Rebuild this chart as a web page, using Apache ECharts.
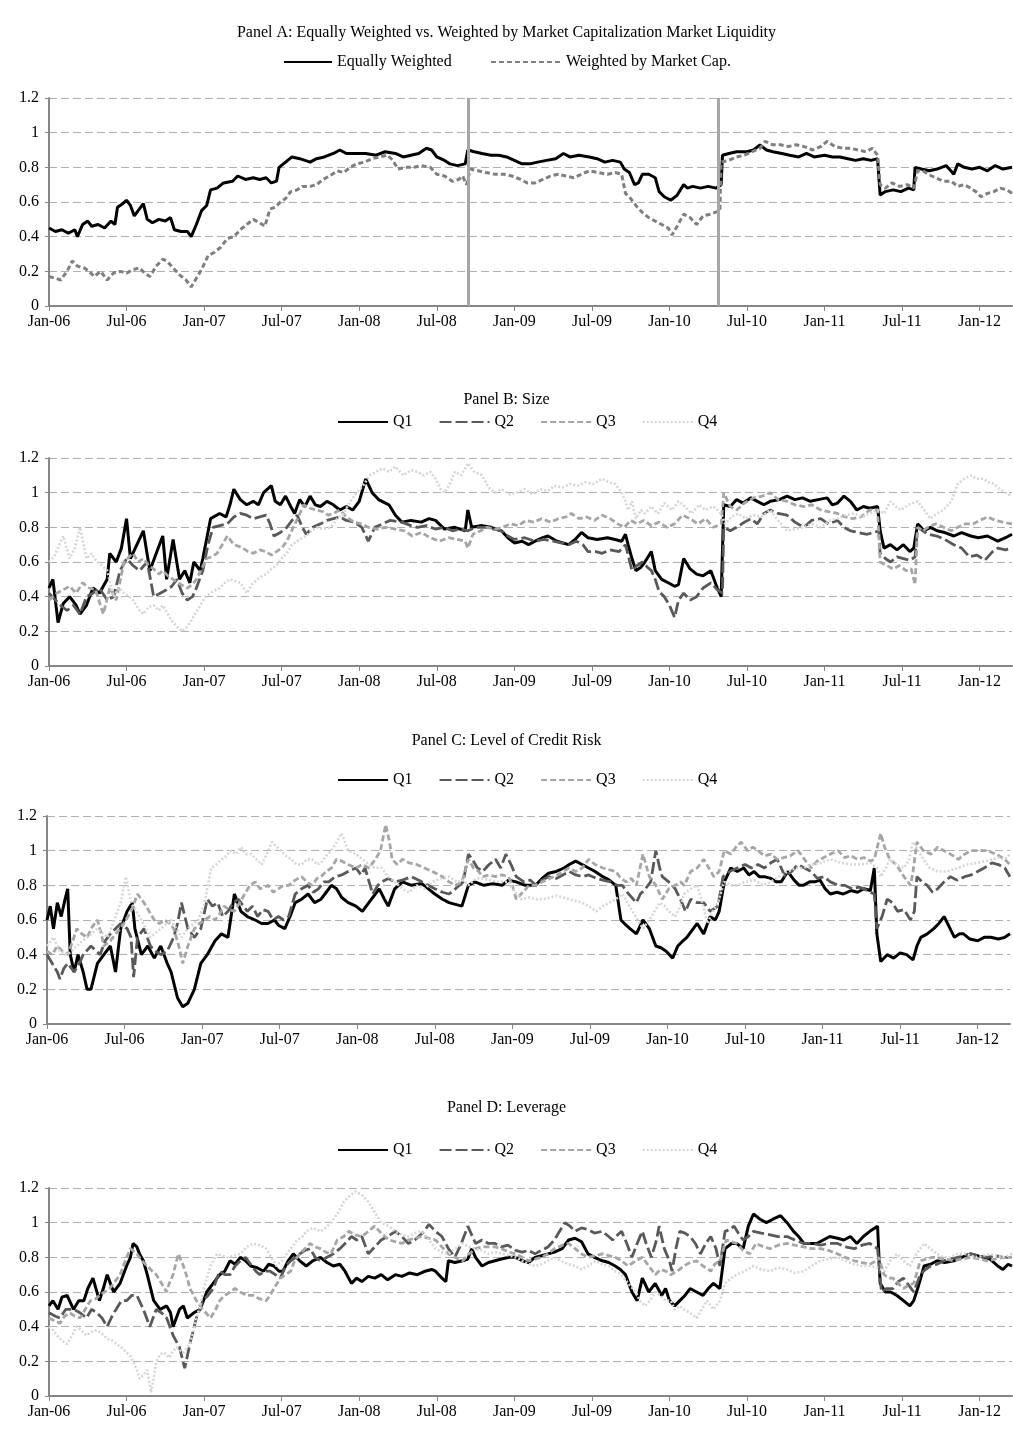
<!DOCTYPE html>
<html>
<head>
<meta charset="utf-8">
<script src="https://cdn.jsdelivr.net/npm/echarts@6/dist/echarts.min.js"></script>
<style>
  html, body { margin: 0; background: #fff; }
  #chart { width: 1013px; height: 1430px; }
</style>
</head>
<body>
<div id="chart"></div>
<script>
// x values are months since the start of Jan-06
const xTickLabels = ['Jan-06', 'Jul-06', 'Jan-07', 'Jul-07', 'Jan-08', 'Jul-08', 'Jan-09',
  'Jul-09', 'Jan-10', 'Jul-10', 'Jan-11', 'Jul-11', 'Jan-12']
const yTickLabels = ['0', '0.2', '0.4', '0.6', '0.8', '1', '1.2']
const panelTitles = [
  'Panel A: Equally Weighted vs. Weighted by Market Capitalization Market Liquidity',
  'Panel B: Size',
  'Panel C: Level of Credit Risk',
  'Panel D: Leverage'
]
const quartileNames = ['Q1', 'Q2', 'Q3', 'Q4']
// Sept 2008 and May 2010 markers in panel A
const eventLines = [32.45, 51.75]

// Panel A
const aEqual = [[0,0.45],[0.5,0.43],[1,0.44],[1.5,0.42],[2,0.44],[2.2,0.40],[2.6,0.47],[3,0.49],[3.3,0.46],[3.8,0.47],[4.3,0.45],[4.8,0.49],[5.1,0.47],[5.3,0.57],[5.7,0.59],[6,0.61],[6.3,0.58],[6.6,0.52],[7,0.56],[7.3,0.59],[7.6,0.50],[8,0.48],[8.5,0.50],[9,0.49],[9.4,0.51],[9.7,0.44],[10.2,0.43],[10.7,0.43],[11,0.40],[11.4,0.47],[11.8,0.55],[12.2,0.58],[12.5,0.67],[13,0.68],[13.5,0.71],[14.2,0.72],[14.6,0.75],[15.2,0.73],[15.8,0.74],[16.3,0.73],[16.8,0.74],[17.2,0.71],[17.6,0.72],[17.8,0.80],[18.3,0.83],[18.8,0.86],[19.4,0.85],[20.2,0.83],[20.7,0.85],[21.3,0.86],[22,0.88],[22.5,0.90],[23,0.88],[23.7,0.88],[24.5,0.88],[25.3,0.87],[26,0.89],[26.8,0.88],[27.4,0.86],[28,0.87],[28.6,0.88],[29.2,0.91],[29.6,0.90],[30,0.86],[30.6,0.84],[31,0.82],[31.6,0.81],[32.2,0.82],[32.4,0.90],[32.9,0.89],[33.5,0.88],[34.2,0.87],[34.8,0.87],[35.4,0.86],[36,0.84],[36.6,0.82],[37.2,0.82],[37.8,0.83],[38.5,0.84],[39.2,0.85],[39.8,0.88],[40.3,0.86],[41,0.87],[41.8,0.86],[42.4,0.85],[43,0.83],[43.6,0.84],[44.2,0.83],[44.5,0.79],[44.9,0.77],[45.3,0.70],[45.6,0.71],[45.9,0.76],[46.4,0.76],[46.9,0.74],[47.2,0.66],[47.6,0.63],[48.1,0.61],[48.6,0.64],[49.1,0.70],[49.4,0.68],[49.8,0.69],[50.4,0.68],[51,0.69],[51.6,0.68],[52,0.70],[52.1,0.87],[52.6,0.88],[53.2,0.89],[54,0.89],[54.5,0.90],[55,0.93],[55.5,0.90],[56,0.89],[56.7,0.88],[57.3,0.87],[58,0.86],[58.6,0.88],[59.2,0.86],[60,0.87],[60.6,0.86],[61.2,0.86],[61.8,0.85],[62.4,0.84],[63,0.85],[63.6,0.84],[64.1,0.85],[64.3,0.64],[64.7,0.66],[65.3,0.67],[65.9,0.66],[66.5,0.68],[66.9,0.67],[67,0.80],[67.5,0.79],[68.1,0.78],[68.7,0.79],[69.4,0.81],[70,0.76],[70.3,0.82],[70.8,0.80],[71.4,0.79],[72,0.80],[72.6,0.78],[73.2,0.81],[73.8,0.79],[74.5,0.80]]
const aMcap = [[0,0.17],[0.5,0.16],[0.9,0.15],[1.4,0.20],[1.8,0.26],[2.2,0.23],[2.7,0.22],[3.1,0.20],[3.5,0.17],[4,0.20],[4.5,0.15],[5,0.19],[5.5,0.20],[6,0.19],[6.5,0.21],[7,0.22],[7.4,0.19],[7.8,0.17],[8.3,0.23],[8.8,0.27],[9.1,0.26],[9.6,0.22],[10.1,0.18],[10.6,0.15],[11,0.11],[11.4,0.16],[11.8,0.21],[12.3,0.29],[12.8,0.31],[13.3,0.34],[13.8,0.39],[14.3,0.40],[14.8,0.44],[15.3,0.47],[15.8,0.50],[16.3,0.48],[16.7,0.46],[17.1,0.56],[17.5,0.57],[17.9,0.60],[18.3,0.62],[18.7,0.66],[19.2,0.67],[19.6,0.69],[20.2,0.69],[20.7,0.70],[21.2,0.73],[21.7,0.75],[22.3,0.78],[22.8,0.77],[23.3,0.80],[23.8,0.82],[24.4,0.83],[25,0.85],[25.6,0.86],[26.2,0.87],[26.6,0.84],[27,0.79],[27.6,0.80],[28.2,0.80],[28.8,0.81],[29.5,0.80],[30,0.76],[30.6,0.75],[31.2,0.72],[31.7,0.73],[32,0.75],[32.3,0.70],[32.6,0.79],[33.2,0.78],[33.8,0.77],[34.5,0.76],[35.2,0.76],[35.8,0.75],[36.5,0.73],[37,0.71],[37.6,0.71],[38.2,0.73],[38.8,0.75],[39.4,0.76],[40,0.75],[40.6,0.74],[41.2,0.76],[41.8,0.78],[42.5,0.77],[43.2,0.76],[43.8,0.77],[44.3,0.76],[44.6,0.65],[45,0.62],[45.4,0.58],[45.9,0.54],[46.4,0.51],[46.9,0.49],[47.4,0.47],[47.9,0.45],[48.2,0.41],[48.6,0.46],[49.1,0.53],[49.6,0.51],[50.1,0.47],[50.6,0.52],[51.2,0.53],[51.9,0.55],[52,0.83],[52.6,0.84],[53.2,0.86],[53.8,0.87],[54.4,0.89],[55,0.91],[55.4,0.95],[56,0.93],[56.6,0.93],[57.2,0.92],[57.8,0.93],[58.4,0.92],[59.1,0.90],[59.7,0.92],[60.2,0.95],[60.8,0.92],[61.4,0.91],[62,0.91],[62.6,0.90],[63.2,0.89],[63.7,0.91],[64.1,0.87],[64.3,0.70],[64.7,0.68],[65.2,0.71],[65.8,0.69],[66.4,0.70],[66.9,0.68],[67.2,0.78],[67.6,0.78],[68,0.76],[68.6,0.74],[69.2,0.72],[69.8,0.72],[70.3,0.69],[70.8,0.70],[71.3,0.68],[71.7,0.66],[72.1,0.63],[72.6,0.65],[73.1,0.66],[73.6,0.68],[74.1,0.67],[74.5,0.65]]

// Panel B: size quartiles
const bQ1 = [[0,0.45],[0.3,0.50],[0.7,0.25],[1.1,0.36],[1.6,0.40],[2.1,0.35],[2.4,0.30],[2.9,0.35],[3.4,0.45],[3.9,0.42],[4.5,0.50],[4.7,0.65],[5.2,0.60],[5.6,0.68],[6,0.85],[6.3,0.62],[6.8,0.70],[7.3,0.78],[7.8,0.55],[8.3,0.65],[8.8,0.75],[9.1,0.50],[9.6,0.73],[10.1,0.50],[10.5,0.55],[10.9,0.48],[11.2,0.60],[11.7,0.55],[11.9,0.62],[12.5,0.85],[13.2,0.88],[13.7,0.86],[14,0.93],[14.3,1.02],[14.8,0.96],[15.3,0.93],[15.8,0.95],[16.2,0.93],[16.6,1.00],[17.2,1.04],[17.5,0.95],[17.9,0.93],[18.3,0.98],[18.7,0.92],[19,0.88],[19.4,0.96],[19.8,0.92],[20.2,0.98],[20.6,0.93],[21,0.92],[21.5,0.95],[22,0.93],[22.5,0.90],[23,0.92],[23.5,0.90],[24,0.95],[24.5,1.08],[25,1.00],[25.5,0.96],[26.3,0.93],[26.8,0.87],[27.3,0.83],[28,0.84],[28.8,0.83],[29.4,0.85],[29.9,0.84],[30.6,0.79],[31.4,0.80],[32.2,0.78],[32.4,0.90],[32.7,0.80],[33.5,0.81],[34.2,0.80],[35,0.78],[35.5,0.74],[36,0.71],[36.6,0.72],[37.1,0.70],[37.6,0.72],[38.2,0.74],[38.6,0.75],[39.3,0.72],[40.2,0.70],[40.7,0.73],[41.2,0.77],[41.7,0.74],[42.4,0.73],[43.2,0.74],[43.8,0.73],[44.3,0.72],[44.6,0.76],[44.8,0.70],[45.1,0.62],[45.4,0.55],[45.8,0.57],[46.1,0.60],[46.6,0.66],[46.9,0.55],[47.4,0.50],[47.9,0.48],[48.4,0.46],[48.7,0.47],[49.1,0.62],[49.6,0.56],[50.1,0.53],[50.6,0.52],[51.2,0.55],[51.7,0.45],[52,0.40],[52.2,0.93],[52.7,0.92],[53.2,0.96],[53.7,0.94],[54.3,0.97],[54.8,0.95],[55.3,0.93],[55.8,0.95],[56.5,0.96],[57.1,0.98],[57.7,0.96],[58.3,0.97],[58.9,0.95],[59.5,0.96],[60.2,0.97],[60.6,0.93],[61,0.94],[61.5,0.98],[62,0.95],[62.5,0.90],[63,0.92],[63.5,0.91],[64.1,0.92],[64.3,0.78],[64.6,0.68],[65.1,0.70],[65.6,0.67],[66.1,0.70],[66.6,0.66],[66.9,0.68],[67.2,0.82],[67.7,0.78],[68.2,0.80],[68.7,0.78],[69.3,0.77],[70,0.75],[70.6,0.77],[71.3,0.75],[71.9,0.74],[72.6,0.75],[73.4,0.72],[74,0.74],[74.5,0.76]]
const bQ2 = [[0,0.42],[0.5,0.38],[0.9,0.35],[1.4,0.32],[1.9,0.35],[2.4,0.30],[2.9,0.40],[3.4,0.42],[3.9,0.45],[4.5,0.38],[5,0.40],[5.5,0.55],[6,0.62],[6.5,0.58],[7,0.55],[7.6,0.60],[8.1,0.40],[8.6,0.42],[9.1,0.44],[9.5,0.46],[9.9,0.50],[10.3,0.42],[10.7,0.38],[11.1,0.40],[11.4,0.45],[11.9,0.55],[12.3,0.70],[12.7,0.80],[13.2,0.81],[13.8,0.82],[14.3,0.86],[14.8,0.88],[15.3,0.87],[15.8,0.85],[16.3,0.86],[16.8,0.87],[17.1,0.82],[17.4,0.75],[17.9,0.77],[18.4,0.80],[18.8,0.84],[19.2,0.87],[19.6,0.80],[19.9,0.76],[20.4,0.80],[21,0.82],[21.5,0.84],[22,0.85],[22.5,0.86],[23,0.84],[23.6,0.83],[24.2,0.80],[24.7,0.72],[25.2,0.80],[25.8,0.82],[26.4,0.84],[27.3,0.83],[28,0.81],[28.5,0.80],[29.2,0.81],[29.9,0.79],[30.6,0.80],[31.2,0.78],[31.8,0.79],[32.4,0.78],[33,0.80],[33.8,0.80],[34.4,0.79],[35,0.78],[35.5,0.75],[36,0.73],[36.8,0.74],[37.6,0.72],[38.3,0.73],[39,0.72],[39.6,0.71],[40.2,0.70],[40.8,0.72],[41.3,0.70],[41.7,0.66],[42.3,0.66],[42.8,0.65],[43.4,0.67],[44.1,0.66],[44.6,0.70],[45.1,0.55],[45.5,0.58],[45.9,0.60],[46.3,0.57],[46.6,0.55],[46.9,0.50],[47.2,0.43],[47.6,0.40],[48,0.35],[48.4,0.28],[48.7,0.38],[49.1,0.42],[49.6,0.38],[50.1,0.40],[50.6,0.45],[51.2,0.48],[51.7,0.44],[52.1,0.42],[52.2,0.80],[52.7,0.78],[53.2,0.80],[53.8,0.83],[54.3,0.85],[54.8,0.82],[55.3,0.88],[55.8,0.90],[56.4,0.88],[57.1,0.87],[57.7,0.83],[58.4,0.80],[59,0.84],[59.7,0.85],[60.3,0.82],[61,0.84],[61.5,0.80],[62,0.78],[62.6,0.77],[63.3,0.76],[63.8,0.77],[64.2,0.78],[64.3,0.65],[64.7,0.62],[65.1,0.60],[65.6,0.63],[66.1,0.62],[66.6,0.61],[67,0.63],[67.2,0.80],[67.6,0.78],[68,0.76],[68.7,0.75],[69.3,0.73],[70,0.70],[70.6,0.68],[71.2,0.63],[71.8,0.64],[72.4,0.61],[73,0.66],[73.4,0.68],[74,0.67],[74.5,0.68]]
const bQ3 = [[0,0.38],[0.6,0.42],[1.1,0.44],[1.6,0.46],[2.1,0.42],[2.6,0.48],[3.1,0.45],[3.6,0.44],[4.2,0.30],[4.7,0.45],[5.2,0.38],[5.8,0.60],[6.2,0.63],[6.5,0.65],[6.9,0.60],[7.3,0.62],[7.7,0.58],[8.1,0.56],[8.5,0.53],[8.8,0.55],[9.2,0.52],[9.6,0.50],[10.2,0.47],[10.7,0.45],[11.1,0.47],[11.4,0.50],[11.8,0.56],[12.2,0.62],[12.6,0.63],[13,0.65],[13.4,0.70],[13.8,0.75],[14.3,0.70],[14.7,0.69],[15,0.68],[15.4,0.66],[15.8,0.65],[16.3,0.67],[16.8,0.66],[17.2,0.64],[17.6,0.66],[18,0.68],[18.4,0.72],[18.9,0.80],[19.3,0.86],[19.7,0.93],[20.2,0.91],[20.7,0.90],[21.2,0.89],[21.6,0.87],[22,0.88],[22.5,0.90],[23,0.86],[23.6,0.83],[24.2,0.82],[24.7,0.80],[25.4,0.79],[26,0.80],[26.8,0.79],[27.5,0.78],[28.1,0.75],[28.8,0.77],[29.5,0.74],[30.2,0.72],[30.9,0.74],[31.6,0.73],[32.2,0.72],[32.4,0.68],[32.8,0.76],[33.4,0.78],[33.9,0.80],[34.5,0.79],[35.1,0.80],[35.7,0.82],[36.3,0.81],[36.9,0.84],[37.5,0.83],[38.1,0.85],[38.8,0.83],[39.4,0.85],[40,0.86],[40.4,0.88],[41,0.85],[41.6,0.86],[42.2,0.84],[42.8,0.87],[43.4,0.85],[44,0.82],[44.5,0.80],[45,0.84],[45.5,0.82],[46,0.84],[46.6,0.81],[47.2,0.83],[47.8,0.80],[48.4,0.82],[49,0.87],[49.6,0.85],[50.2,0.82],[50.8,0.85],[51.4,0.80],[52,0.82],[52.2,1.00],[52.7,0.92],[53.2,0.90],[53.8,0.94],[54.5,0.97],[55.2,0.98],[55.8,1.00],[56.4,0.96],[57.1,0.95],[57.7,0.93],[58.4,0.92],[59,0.93],[59.7,0.90],[60.3,0.89],[61,0.88],[61.6,0.86],[62.2,0.85],[62.8,0.86],[63.5,0.90],[64.1,0.90],[64.3,0.60],[64.8,0.58],[65.3,0.56],[65.8,0.58],[66.3,0.55],[66.7,0.56],[67,0.47],[67.2,0.80],[67.6,0.78],[68,0.80],[68.6,0.82],[69.2,0.80],[69.8,0.78],[70.3,0.80],[70.9,0.82],[71.5,0.82],[72,0.84],[72.6,0.86],[73.2,0.84],[73.8,0.83],[74.5,0.82]]
const bQ4 = [[0,0.60],[0.4,0.63],[0.8,0.70],[1.1,0.75],[1.6,0.62],[2,0.68],[2.4,0.80],[2.9,0.62],[3.3,0.65],[3.7,0.60],[4.1,0.58],[4.5,0.55],[5,0.40],[5.4,0.45],[5.8,0.42],[6.2,0.40],[6.5,0.38],[6.9,0.33],[7.3,0.30],[7.7,0.34],[8.1,0.35],[8.5,0.32],[8.8,0.35],[9.2,0.30],[9.6,0.25],[10,0.22],[10.3,0.20],[10.6,0.22],[10.9,0.25],[11.3,0.30],[11.7,0.35],[12.1,0.40],[12.5,0.42],[12.9,0.44],[13.2,0.45],[13.6,0.48],[14,0.50],[14.4,0.49],[14.8,0.48],[15.3,0.42],[15.7,0.47],[16.1,0.50],[16.5,0.52],[16.8,0.53],[17.2,0.56],[17.6,0.58],[18,0.62],[18.4,0.65],[18.8,0.70],[19.2,0.72],[19.6,0.74],[19.9,0.75],[20.3,0.78],[20.7,0.80],[21.2,0.79],[21.8,0.80],[22.3,0.85],[22.8,0.88],[23.3,0.95],[23.8,1.00],[24.4,1.05],[24.8,1.10],[25.3,1.12],[25.8,1.14],[26.3,1.12],[26.8,1.15],[27.4,1.10],[28,1.13],[28.5,1.12],[29,1.10],[29.5,1.12],[29.9,1.08],[30.3,1.02],[30.6,1.00],[31,1.05],[31.4,1.12],[31.9,1.10],[32.4,1.17],[32.9,1.12],[33.5,1.10],[34,1.03],[34.5,1.00],[35,1.02],[35.6,0.99],[36.2,1.00],[36.8,1.02],[37.4,0.99],[38,1.02],[38.6,1.01],[39.1,1.04],[39.7,1.03],[40.3,1.05],[40.9,1.04],[41.5,1.06],[42.1,1.05],[42.8,1.08],[43.3,1.06],[43.8,1.05],[44.3,1.00],[44.6,0.95],[44.8,0.90],[45.1,0.95],[45.4,0.85],[45.8,0.90],[46.1,0.88],[46.6,0.92],[47.1,0.88],[47.6,0.94],[48.2,0.90],[48.7,0.95],[49.2,0.92],[49.7,0.88],[50.3,0.93],[50.8,0.90],[51.4,0.92],[52,0.88],[52.3,0.82],[52.8,0.86],[53.3,0.88],[53.9,0.85],[54.5,0.87],[55.1,0.86],[55.8,0.90],[56.4,0.84],[57.1,0.78],[57.7,0.79],[58.4,0.80],[59,0.82],[59.7,0.80],[60.4,0.84],[61,0.85],[61.6,0.87],[62.3,0.88],[62.9,0.86],[63.5,0.88],[64.1,0.90],[64.6,0.88],[65.1,0.95],[65.5,0.92],[65.9,0.90],[66.5,0.93],[67.2,0.95],[67.7,0.90],[68.2,0.85],[68.7,0.88],[69.2,0.90],[69.8,0.95],[70.3,1.05],[70.8,1.08],[71.3,1.10],[71.8,1.08],[72.3,1.08],[72.7,1.06],[73.1,1.05],[73.6,1.02],[74,1.00],[74.5,0.98]]

// Panel C: credit risk quartiles
const cQ1 = [[0,0.60],[0.25,0.68],[0.5,0.55],[0.8,0.70],[1.1,0.62],[1.4,0.72],[1.6,0.78],[1.8,0.40],[2.1,0.30],[2.4,0.40],[2.8,0.30],[3.1,0.20],[3.4,0.20],[3.9,0.35],[4.4,0.40],[4.9,0.45],[5.3,0.30],[5.7,0.55],[6.2,0.65],[6.6,0.70],[6.8,0.55],[7.3,0.40],[7.8,0.45],[8.3,0.38],[8.8,0.45],[9.3,0.35],[9.6,0.30],[10.1,0.15],[10.5,0.10],[10.9,0.12],[11.4,0.20],[11.9,0.35],[12.4,0.40],[13,0.48],[13.5,0.52],[14,0.50],[14.5,0.75],[15,0.65],[15.5,0.62],[16.1,0.60],[16.6,0.58],[17.1,0.58],[17.6,0.60],[17.9,0.57],[18.4,0.55],[18.8,0.62],[19.2,0.70],[19.7,0.72],[20.2,0.75],[20.7,0.70],[21.2,0.72],[21.6,0.76],[22,0.80],[22.4,0.78],[22.8,0.73],[23.3,0.70],[23.9,0.68],[24.4,0.65],[24.9,0.70],[25.3,0.74],[25.7,0.78],[26.1,0.72],[26.4,0.68],[26.9,0.78],[27.5,0.82],[28.2,0.80],[29,0.81],[29.5,0.78],[30,0.75],[30.6,0.72],[31.1,0.70],[31.6,0.69],[32.1,0.68],[32.6,0.80],[33.1,0.82],[33.8,0.80],[34.5,0.81],[35.2,0.80],[35.7,0.83],[36.3,0.82],[37,0.80],[37.8,0.80],[38.3,0.84],[38.8,0.87],[39.4,0.88],[40,0.90],[40.4,0.92],[40.9,0.94],[41.4,0.92],[41.9,0.90],[42.4,0.88],[43,0.85],[43.5,0.83],[44,0.80],[44.4,0.60],[44.8,0.57],[45.1,0.55],[45.6,0.52],[46.1,0.60],[46.6,0.55],[47.1,0.45],[47.5,0.44],[47.9,0.42],[48.4,0.38],[48.8,0.45],[49.2,0.48],[49.5,0.50],[50,0.55],[50.3,0.58],[50.8,0.52],[51.3,0.62],[51.7,0.60],[52,0.65],[52.4,0.82],[52.9,0.90],[53.4,0.88],[53.9,0.90],[54.3,0.86],[54.7,0.88],[55.1,0.85],[55.5,0.85],[56,0.84],[56.4,0.82],[56.8,0.82],[57.3,0.88],[57.8,0.83],[58.2,0.80],[58.5,0.80],[59,0.82],[59.4,0.82],[59.8,0.83],[60.2,0.78],[60.6,0.75],[61.1,0.76],[61.6,0.75],[62.2,0.77],[62.7,0.76],[63.2,0.78],[63.7,0.77],[64,0.90],[64.2,0.52],[64.5,0.36],[65,0.40],[65.5,0.38],[66,0.41],[66.5,0.40],[67,0.37],[67.3,0.45],[67.6,0.50],[68.1,0.52],[68.6,0.55],[69,0.58],[69.4,0.62],[69.8,0.56],[70.2,0.50],[70.6,0.52],[70.9,0.52],[71.4,0.49],[72,0.48],[72.5,0.50],[73,0.50],[73.6,0.49],[74.1,0.50],[74.5,0.52]]
const cQ2 = [[0,0.40],[0.4,0.35],[0.8,0.30],[1,0.26],[1.3,0.32],[1.6,0.35],[2.1,0.30],[2.5,0.35],[2.8,0.40],[3.4,0.45],[4.1,0.40],[4.5,0.48],[4.9,0.52],[5.3,0.55],[5.7,0.58],[6.2,0.55],[6.5,0.50],[6.7,0.27],[7,0.50],[7.5,0.55],[8,0.45],[8.4,0.42],[8.8,0.40],[9.3,0.42],[9.8,0.50],[10.1,0.58],[10.4,0.70],[10.9,0.55],[11.4,0.50],[11.9,0.55],[12.4,0.72],[12.8,0.68],[13.2,0.70],[13.6,0.62],[14,0.65],[14.4,0.70],[14.8,0.72],[15.2,0.68],[15.5,0.65],[15.9,0.68],[16.3,0.62],[16.7,0.66],[17.1,0.65],[17.5,0.60],[17.9,0.62],[18.3,0.60],[18.7,0.62],[19.2,0.75],[19.7,0.78],[20.2,0.80],[20.6,0.76],[21,0.78],[21.4,0.82],[21.8,0.82],[22.3,0.85],[22.8,0.86],[23.3,0.88],[23.9,0.90],[24.3,0.86],[24.6,0.90],[25.2,0.75],[25.6,0.80],[25.9,0.82],[26.4,0.84],[26.9,0.82],[27.5,0.83],[28.2,0.85],[29,0.82],[29.5,0.80],[30,0.78],[30.6,0.76],[31.1,0.75],[31.6,0.78],[32.2,0.82],[32.6,0.98],[32.9,0.95],[33.3,0.90],[33.7,0.88],[34.2,0.92],[34.7,0.95],[35.1,0.90],[35.5,0.98],[35.9,0.92],[36.3,0.85],[36.9,0.82],[37.4,0.83],[37.8,0.80],[38.3,0.83],[38.8,0.85],[39.4,0.84],[39.9,0.86],[40.4,0.88],[40.9,0.86],[41.4,0.85],[41.9,0.86],[42.5,0.84],[43,0.83],[43.6,0.82],[44.1,0.80],[44.5,0.80],[45,0.75],[45.6,0.70],[45.9,0.75],[46.3,0.78],[46.7,0.82],[47.1,1.00],[47.4,0.90],[47.6,0.85],[48.1,0.82],[48.6,0.78],[49,0.72],[49.4,0.65],[49.8,0.72],[50.3,0.70],[50.8,0.70],[51.3,0.65],[51.9,0.68],[52.3,0.85],[52.8,0.88],[53.4,0.90],[54,0.92],[54.5,0.90],[55,0.92],[55.5,0.90],[56,0.93],[56.5,0.95],[57.1,0.85],[57.6,0.88],[58.1,0.92],[58.6,0.90],[59.1,0.88],[59.6,0.84],[60.1,0.85],[60.6,0.82],[61.2,0.80],[61.7,0.80],[62.3,0.78],[62.8,0.79],[63.2,0.78],[63.7,0.76],[64,0.75],[64.2,0.55],[64.6,0.62],[65,0.72],[65.4,0.70],[65.8,0.65],[66.3,0.66],[66.8,0.60],[67.1,0.65],[67.3,0.85],[67.7,0.82],[68.1,0.80],[68.5,0.76],[68.9,0.78],[69.4,0.82],[69.9,0.85],[70.4,0.83],[71,0.85],[71.5,0.86],[72,0.88],[72.5,0.90],[73.1,0.93],[73.6,0.92],[74.1,0.90],[74.5,0.85]]
const cQ3 = [[0,0.42],[0.4,0.40],[0.8,0.45],[1.2,0.42],[1.6,0.40],[2,0.48],[2.3,0.55],[2.7,0.52],[3.1,0.50],[3.5,0.56],[3.9,0.60],[4.2,0.52],[4.4,0.45],[4.9,0.48],[5.3,0.52],[5.7,0.55],[6.1,0.60],[6.5,0.65],[7,0.75],[7.5,0.70],[7.9,0.65],[8.3,0.60],[8.7,0.58],[9.1,0.60],[9.5,0.58],[9.8,0.55],[10.2,0.45],[10.5,0.35],[10.9,0.45],[11.4,0.55],[11.8,0.58],[12.2,0.60],[12.6,0.62],[13,0.60],[13.4,0.64],[13.7,0.68],[14.1,0.66],[14.5,0.65],[14.9,0.70],[15.3,0.75],[15.7,0.80],[16.1,0.82],[16.5,0.78],[17.1,0.80],[17.5,0.76],[17.9,0.78],[18.3,0.80],[18.7,0.80],[19.2,0.83],[19.7,0.85],[20.1,0.82],[20.5,0.80],[20.9,0.84],[21.2,0.85],[21.6,0.88],[22,0.90],[22.4,0.95],[22.8,0.94],[23.3,0.92],[23.9,0.90],[24.4,0.92],[24.9,0.90],[25.4,0.95],[25.8,1.00],[26.2,1.15],[26.5,1.05],[26.7,0.95],[27.1,0.92],[27.5,0.95],[28,0.93],[28.6,0.92],[29.2,0.90],[29.8,0.88],[30.6,0.85],[31.1,0.82],[31.6,0.80],[32.1,0.82],[32.6,0.95],[33,0.90],[33.4,0.88],[33.7,0.85],[34.2,0.86],[34.7,0.85],[35.2,0.86],[35.7,0.85],[36,0.80],[36.3,0.72],[36.8,0.76],[37.3,0.80],[37.8,0.80],[38.3,0.82],[38.9,0.84],[39.5,0.86],[39.9,0.88],[40.4,0.90],[40.9,0.88],[41.4,0.90],[41.9,0.95],[42.4,0.92],[43,0.90],[43.5,0.89],[44,0.88],[44.4,0.84],[44.8,0.82],[45.2,0.84],[45.6,0.80],[46.1,0.98],[46.6,0.85],[47.1,0.80],[47.6,0.72],[48.1,0.78],[48.6,0.80],[49,0.82],[49.3,0.80],[49.8,0.88],[50.3,0.90],[50.8,0.95],[51.2,0.90],[51.6,0.85],[52,0.88],[52.4,1.00],[52.9,0.98],[53.3,1.02],[53.7,1.05],[54.2,1.00],[54.6,1.02],[55,1.00],[55.5,0.97],[56,0.98],[56.5,0.95],[57,0.96],[57.5,0.97],[58.1,1.00],[58.6,0.95],[59.1,0.90],[59.6,0.94],[60.1,0.96],[60.6,0.98],[61.2,1.00],[61.7,0.96],[62.2,0.97],[62.7,0.95],[63.2,0.96],[63.7,0.94],[64,0.95],[64.5,1.10],[64.8,1.02],[65.2,0.95],[65.7,0.92],[66.3,0.85],[66.8,0.80],[67,0.88],[67.3,1.05],[67.8,1.00],[68.4,0.98],[68.9,1.02],[69.4,1.00],[69.9,0.98],[70.5,0.95],[71,0.98],[71.5,1.00],[72.1,1.00],[72.8,1.00],[73.4,0.98],[74.1,0.95],[74.5,0.92]]
const cQ4 = [[0,0.45],[0.5,0.50],[1,0.42],[1.6,0.40],[2.3,0.45],[3.1,0.50],[3.9,0.55],[4.7,0.50],[5.2,0.60],[5.7,0.70],[6.1,0.85],[6.5,0.70],[7.3,0.60],[8,0.50],[8.8,0.55],[9.6,0.60],[10.4,0.50],[10.9,0.55],[11.7,0.60],[12.2,0.70],[12.7,0.90],[13.1,0.92],[13.5,0.95],[13.9,0.97],[14.2,1.00],[14.6,0.98],[15,1.02],[15.4,0.98],[15.8,0.98],[16.2,0.95],[16.6,0.92],[17,0.98],[17.4,1.05],[17.8,1.02],[18.1,1.00],[18.5,0.97],[18.9,0.95],[19.3,0.92],[19.7,0.92],[20.1,0.95],[20.5,0.95],[20.9,0.92],[21.2,0.93],[21.6,0.97],[22,1.00],[22.4,1.05],[22.8,1.10],[23.3,1.00],[23.9,0.98],[24.4,0.95],[24.9,0.92],[25.4,0.90],[25.9,0.90],[26.4,0.85],[26.9,0.82],[27.5,0.78],[28,0.76],[28.6,0.80],[29.2,0.78],[29.8,0.82],[30.5,0.84],[31.1,0.85],[31.7,0.82],[32.2,0.83],[32.6,0.80],[33.2,0.84],[33.7,0.84],[34.3,0.83],[35,0.82],[35.7,0.82],[36.2,0.76],[36.7,0.72],[37.3,0.73],[37.8,0.72],[38.3,0.72],[38.9,0.73],[39.4,0.74],[39.9,0.73],[40.4,0.72],[40.9,0.71],[41.4,0.70],[41.9,0.68],[42.5,0.65],[43,0.68],[43.5,0.70],[44,0.72],[44.5,0.75],[44.9,0.70],[45.3,0.65],[45.7,0.60],[46.1,0.55],[46.6,0.60],[47,0.65],[47.4,0.70],[47.8,0.68],[48.1,0.65],[48.6,0.62],[49,0.68],[49.3,0.75],[49.8,0.78],[50.3,0.80],[50.7,0.70],[51.1,0.58],[51.5,0.65],[51.9,0.70],[52.4,0.82],[52.9,0.80],[53.4,0.80],[54,0.82],[54.7,0.83],[55.4,0.80],[56,0.82],[56.6,0.85],[57.3,0.88],[57.9,0.90],[58.5,0.90],[59.2,0.92],[59.9,0.93],[60.6,0.95],[61.4,0.93],[62.2,0.92],[62.9,0.92],[63.7,0.93],[64.2,0.90],[64.5,0.85],[64.9,0.90],[65.2,0.95],[65.7,0.92],[66.3,0.90],[66.7,0.95],[67,1.05],[67.4,1.00],[67.8,0.95],[68.3,0.90],[68.9,0.88],[69.6,0.88],[70.5,0.90],[71.2,0.92],[72,0.93],[72.6,0.94],[73.1,0.95],[73.6,0.96],[74.1,0.95],[74.5,0.98]]

// Panel D: leverage quartiles
const dQ1 = [[0,0.52],[0.3,0.55],[0.7,0.50],[1,0.57],[1.4,0.58],[1.9,0.50],[2.3,0.55],[2.7,0.55],[3,0.62],[3.4,0.68],[3.9,0.55],[4.2,0.62],[4.5,0.70],[5,0.60],[5.5,0.65],[6,0.75],[6.3,0.80],[6.5,0.88],[6.8,0.86],[7,0.82],[7.3,0.78],[7.6,0.70],[8.1,0.55],[8.6,0.50],[9.1,0.52],[9.4,0.48],[9.6,0.40],[10.1,0.50],[10.4,0.52],[10.7,0.45],[11.2,0.48],[11.7,0.50],[12.2,0.60],[12.7,0.65],[13.2,0.70],[13.6,0.72],[14,0.78],[14.4,0.76],[14.8,0.80],[15.2,0.78],[15.6,0.75],[16.1,0.74],[16.6,0.72],[17,0.76],[17.4,0.75],[17.8,0.72],[18.1,0.72],[18.5,0.78],[18.9,0.82],[19.4,0.78],[19.9,0.75],[20.4,0.78],[21,0.80],[21.5,0.77],[22,0.75],[22.5,0.76],[22.9,0.72],[23.4,0.65],[23.8,0.68],[24.2,0.66],[24.7,0.69],[25.2,0.68],[25.7,0.70],[26.2,0.67],[26.8,0.70],[27.3,0.69],[27.9,0.71],[28.5,0.70],[29.1,0.72],[29.6,0.73],[29.9,0.72],[30.4,0.68],[30.7,0.66],[30.9,0.78],[31.4,0.77],[32,0.78],[32.4,0.79],[32.7,0.85],[33,0.80],[33.5,0.75],[34,0.77],[34.5,0.78],[35,0.79],[35.6,0.80],[36.1,0.80],[36.6,0.78],[37.1,0.77],[37.6,0.80],[38.1,0.81],[38.6,0.82],[39.1,0.83],[39.7,0.85],[40.2,0.90],[40.7,0.91],[41.2,0.89],[41.7,0.82],[42.2,0.80],[42.8,0.78],[43.3,0.77],[43.8,0.75],[44.2,0.73],[44.6,0.70],[45.1,0.60],[45.5,0.55],[45.9,0.68],[46.4,0.60],[46.9,0.65],[47.4,0.58],[47.7,0.62],[48,0.55],[48.4,0.52],[48.8,0.55],[49.2,0.58],[49.6,0.62],[50.1,0.60],[50.6,0.58],[51,0.62],[51.4,0.65],[51.9,0.62],[52.3,0.85],[52.8,0.88],[53.2,0.88],[53.7,0.85],[54.1,0.98],[54.5,1.05],[55,1.02],[55.5,1.00],[56,1.02],[56.6,1.04],[57.1,1.00],[57.6,0.95],[58,0.92],[58.4,0.88],[58.9,0.88],[59.4,0.88],[59.9,0.90],[60.4,0.92],[61,0.91],[61.5,0.90],[62,0.92],[62.5,0.88],[63,0.92],[63.5,0.95],[64.1,0.98],[64.3,0.65],[64.7,0.60],[65.1,0.60],[65.6,0.58],[66.1,0.55],[66.6,0.52],[66.9,0.55],[67.2,0.62],[67.7,0.75],[68.2,0.76],[68.7,0.78],[69.3,0.77],[70,0.78],[70.6,0.80],[71.3,0.82],[71.8,0.81],[72.3,0.80],[72.8,0.79],[73.4,0.75],[73.8,0.73],[74.2,0.76],[74.5,0.75]]
const dQ2 = [[0,0.48],[0.5,0.46],[0.85,0.45],[1.3,0.50],[1.9,0.50],[2.4,0.48],[2.9,0.45],[3.3,0.50],[3.7,0.48],[4.1,0.45],[4.5,0.40],[5,0.48],[5.2,0.50],[5.6,0.55],[6,0.55],[6.4,0.58],[6.8,0.58],[7.3,0.50],[7.8,0.40],[8.3,0.50],[8.7,0.48],[9.1,0.45],[9.6,0.35],[10.1,0.28],[10.5,0.16],[10.9,0.30],[11.4,0.45],[11.9,0.55],[12.3,0.58],[12.7,0.62],[13.2,0.72],[13.6,0.70],[14,0.70],[14.4,0.75],[14.8,0.78],[15.2,0.80],[15.6,0.76],[16,0.72],[16.3,0.70],[16.7,0.72],[17.1,0.72],[17.5,0.70],[17.9,0.68],[18.3,0.75],[18.7,0.78],[19.1,0.80],[19.4,0.82],[19.8,0.84],[20.2,0.85],[20.6,0.80],[21,0.78],[21.5,0.80],[22,0.82],[22.5,0.85],[22.9,0.88],[23.4,0.92],[23.8,0.90],[24.2,0.92],[24.7,0.82],[25.2,0.86],[25.7,0.90],[26.2,0.92],[26.8,0.95],[27.3,0.92],[27.8,0.88],[28.3,0.90],[28.9,0.94],[29.4,0.99],[29.9,0.95],[30.4,0.92],[30.9,0.85],[31.4,0.80],[31.9,0.88],[32.4,0.98],[33,0.88],[33.5,0.90],[34,0.88],[34.5,0.88],[35,0.86],[35.5,0.87],[36.1,0.84],[36.6,0.83],[37.1,0.84],[37.6,0.82],[38.1,0.84],[38.6,0.86],[39.1,0.90],[39.5,0.95],[39.9,1.00],[40.3,0.98],[40.7,0.95],[41.2,0.97],[41.7,0.96],[42.2,0.94],[42.8,0.95],[43.3,0.92],[43.6,0.90],[44,0.93],[44.3,0.95],[44.7,0.88],[45.1,0.80],[45.5,0.88],[45.9,0.95],[46.2,0.88],[46.6,0.80],[47,0.90],[47.2,0.98],[47.6,0.85],[48,0.78],[48.2,0.72],[48.5,0.85],[48.8,0.95],[49.2,0.94],[49.6,0.92],[50,0.88],[50.4,0.82],[50.8,0.88],[51.2,0.92],[51.6,0.85],[51.9,0.75],[52.3,0.95],[52.7,0.96],[53,0.98],[53.4,0.93],[53.7,0.90],[54.1,0.92],[54.5,0.95],[55.1,0.94],[55.8,0.93],[56.4,0.92],[57.1,0.92],[57.7,0.90],[58.4,0.88],[59,0.88],[59.7,0.87],[60.3,0.88],[61,0.88],[61.6,0.86],[62.3,0.85],[62.9,0.87],[63.5,0.88],[64.1,0.85],[64.4,0.60],[64.8,0.62],[65.3,0.62],[65.7,0.66],[66.1,0.68],[66.5,0.64],[66.9,0.60],[67.4,0.70],[67.8,0.73],[68.2,0.75],[68.7,0.76],[69.2,0.78],[69.7,0.79],[70.3,0.80],[70.8,0.81],[71.3,0.82],[71.9,0.81],[72.6,0.80],[73.2,0.81],[73.8,0.80],[74.5,0.80]]
const dQ3 = [[0,0.45],[0.5,0.43],[0.85,0.42],[1.2,0.46],[1.6,0.48],[2,0.46],[2.4,0.45],[2.8,0.50],[3.2,0.55],[3.6,0.56],[3.9,0.58],[4.3,0.60],[4.7,0.62],[5.1,0.66],[5.5,0.70],[5.9,0.78],[6.3,0.85],[6.8,0.82],[7.2,0.78],[7.6,0.75],[8,0.72],[8.3,0.70],[8.7,0.65],[9.1,0.60],[9.3,0.65],[9.6,0.70],[10,0.82],[10.4,0.75],[10.7,0.68],[10.9,0.62],[11.2,0.58],[11.4,0.55],[11.9,0.50],[12.5,0.45],[12.9,0.50],[13.2,0.55],[13.6,0.58],[14,0.60],[14.4,0.62],[14.8,0.60],[15.3,0.58],[15.8,0.58],[16.3,0.56],[16.8,0.55],[17.1,0.58],[17.4,0.62],[17.9,0.68],[18.3,0.70],[18.7,0.72],[19,0.78],[19.4,0.82],[19.8,0.85],[20.2,0.88],[20.6,0.86],[21,0.85],[21.4,0.83],[21.8,0.82],[22.3,0.90],[22.8,0.92],[23.2,0.95],[23.7,0.93],[24.2,0.92],[24.7,0.95],[25.2,0.98],[25.7,0.94],[26.3,0.90],[26.8,0.89],[27.3,0.88],[27.8,0.90],[28.3,0.91],[28.8,0.92],[29.4,0.91],[29.9,0.90],[30.4,0.86],[30.9,0.82],[31.4,0.80],[32,0.78],[32.5,0.82],[33,0.85],[33.5,0.86],[34,0.86],[34.5,0.86],[35,0.85],[35.6,0.83],[36.1,0.82],[36.6,0.80],[37.1,0.78],[37.6,0.79],[38.1,0.80],[38.6,0.82],[39.1,0.85],[39.7,0.87],[40.2,0.88],[40.7,0.85],[41.2,0.82],[41.7,0.80],[42.3,0.81],[42.8,0.82],[43.3,0.81],[43.8,0.80],[44.3,0.78],[44.8,0.75],[45.4,0.78],[45.9,0.80],[46.4,0.75],[46.9,0.70],[47.3,0.73],[47.7,0.72],[48.1,0.70],[48.6,0.72],[49.1,0.75],[49.6,0.77],[50.1,0.78],[50.6,0.75],[51.2,0.72],[51.5,0.76],[51.9,0.78],[52.4,0.90],[52.8,0.89],[53.2,0.88],[53.7,0.84],[54.2,0.82],[54.7,0.88],[55.3,0.86],[55.8,0.85],[56.4,0.87],[57.1,0.88],[57.7,0.87],[58.4,0.86],[59,0.85],[59.7,0.85],[60.3,0.84],[61,0.82],[61.6,0.80],[62.3,0.78],[62.9,0.77],[63.5,0.76],[64,0.78],[64.2,0.80],[64.6,0.70],[65,0.68],[65.3,0.68],[65.7,0.65],[66.1,0.62],[66.5,0.64],[66.9,0.65],[67.4,0.78],[67.9,0.79],[68.3,0.80],[68.7,0.80],[69.3,0.79],[70,0.78],[70.6,0.79],[71.3,0.80],[72,0.79],[72.6,0.78],[73.2,0.79],[73.8,0.80],[74.5,0.80]]
const dQ4 = [[0,0.40],[0.3,0.38],[0.6,0.35],[1,0.32],[1.4,0.30],[1.8,0.35],[2.1,0.40],[2.5,0.38],[2.9,0.35],[3.3,0.37],[3.7,0.38],[4.1,0.36],[4.5,0.33],[4.9,0.32],[5.2,0.30],[5.6,0.28],[6,0.25],[6.3,0.23],[6.5,0.20],[6.8,0.15],[7,0.10],[7.3,0.12],[7.6,0.15],[7.9,0.02],[8.1,0.10],[8.3,0.20],[8.6,0.24],[8.8,0.25],[9.1,0.24],[9.3,0.22],[9.6,0.26],[9.9,0.28],[10.2,0.26],[10.4,0.25],[10.7,0.28],[10.9,0.30],[11.2,0.38],[11.4,0.45],[11.7,0.52],[11.9,0.60],[12.2,0.68],[12.5,0.75],[13,0.82],[13.4,0.81],[13.8,0.80],[14.3,0.81],[14.8,0.82],[15.3,0.86],[15.8,0.88],[16.3,0.87],[16.8,0.85],[17.2,0.80],[17.6,0.75],[18,0.78],[18.4,0.82],[18.8,0.86],[19.2,0.90],[19.6,0.92],[19.9,0.95],[20.4,0.97],[21,0.95],[21.4,0.97],[21.8,1.00],[22.3,1.05],[22.8,1.12],[23.2,1.15],[23.7,1.18],[24.2,1.16],[24.7,1.12],[25.2,1.06],[25.7,1.00],[26.3,0.98],[26.8,0.95],[27.3,0.93],[27.8,0.92],[28.3,0.94],[28.8,0.95],[29.4,0.90],[29.9,0.85],[30.4,0.83],[30.9,0.82],[31.4,0.85],[32,0.88],[32.5,0.86],[33,0.85],[33.5,0.84],[34,0.82],[34.5,0.83],[35.1,0.82],[35.6,0.81],[36.1,0.80],[36.6,0.78],[37.1,0.76],[37.6,0.75],[38.1,0.76],[38.6,0.78],[39.1,0.80],[39.6,0.78],[40.2,0.76],[40.7,0.75],[41.2,0.73],[41.7,0.75],[42.3,0.78],[42.8,0.76],[43.3,0.75],[43.8,0.72],[44.3,0.70],[44.8,0.65],[45.4,0.60],[45.7,0.55],[46.1,0.52],[46.5,0.55],[46.9,0.60],[47.3,0.58],[47.7,0.55],[48.1,0.55],[48.4,0.50],[48.8,0.52],[49.1,0.50],[49.6,0.48],[50.1,0.45],[50.5,0.50],[50.9,0.55],[51.4,0.50],[51.9,0.55],[52.3,0.65],[52.8,0.68],[53.2,0.70],[53.8,0.72],[54.5,0.75],[55.1,0.73],[55.8,0.72],[56.4,0.74],[57.1,0.73],[57.7,0.71],[58.4,0.72],[59,0.75],[59.7,0.78],[60.3,0.79],[61,0.80],[61.6,0.78],[62.3,0.76],[62.9,0.75],[63.5,0.75],[64.1,0.74],[64.6,0.72],[65.1,0.78],[65.6,0.82],[66.1,0.78],[66.6,0.75],[67.1,0.82],[67.7,0.88],[68.2,0.85],[68.7,0.82],[69.2,0.80],[69.7,0.80],[70.3,0.82],[70.8,0.82],[71.3,0.81],[71.8,0.80],[72.3,0.81],[72.8,0.82],[73.3,0.81],[73.8,0.80],[74.2,0.81],[74.5,0.82]]

const font = 'Liberation Serif, Times New Roman, serif'
const chart = echarts.init(document.getElementById('chart'))

const lineStyles = {
  'Equally Weighted': { color: '#000000', width: 3, type: 'solid' },
  'Weighted by Market Cap.': { color: '#7f7f7f', width: 3, type: [5, 3] },
  Q1: { color: '#000000', width: 3, type: 'solid' },
  Q2: { color: '#595959', width: 2.8, type: [12, 4] },
  Q3: { color: '#a6a6a6', width: 2.8, type: [6, 3] },
  Q4: { color: '#d6d6d6', width: 2.6, type: [2, 2] }
}

const panels = [
  { left: 49, top: 98, titleY: 33, legendY: 61 },
  { left: 49, top: 458, titleY: 400, legendY: 421 },
  { left: 47, top: 816, titleY: 741, legendY: 779 },
  { left: 49, top: 1188, titleY: 1108, legendY: 1149 }
]

function makeLine(name, data, gi) {
  const st = lineStyles[name]
  return {
    name: name,
    type: 'line',
    xAxisIndex: gi,
    yAxisIndex: gi,
    data: data,
    symbol: 'none',
    silent: true,
    lineStyle: { color: st.color, width: st.width, type: st.type },
    itemStyle: { color: st.color }
  }
}

const series = []
const eqSeries = makeLine('Equally Weighted', aEqual, 0)
eqSeries.markLine = {
  silent: true,
  symbol: ['none', 'none'],
  label: { show: false },
  lineStyle: { color: '#a6a6a6', width: 3, type: 'solid' },
  data: eventLines.map(v => ({ xAxis: v }))
}
series.push(eqSeries)
series.push(makeLine('Weighted by Market Cap.', aMcap, 0))
;[[bQ1, bQ2, bQ3, bQ4], [cQ1, cQ2, cQ3, cQ4], [dQ1, dQ2, dQ3, dQ4]].forEach((group, i) => {
  group.forEach((d, j) => series.push(makeLine(quartileNames[j], d, i + 1)))
})

const legendText = { fontFamily: font, fontSize: 16, color: '#000' }
const legends = [
  { left: 283, top: panels[0].legendY - 7, data: ['Equally Weighted'], itemWidth: 48 },
  { left: 490, top: panels[0].legendY - 7, data: ['Weighted by Market Cap.'], itemWidth: 70 }
]
for (let i = 1; i < 4; i++) {
  legends.push({ left: 337, top: panels[i].legendY - 7, data: quartileNames, itemWidth: 50, itemGap: 26 })
}
legends.forEach(l => {
  l.padding = 0
  l.itemHeight = 14
  l.selectedMode = false
  l.textStyle = legendText
  // line only, no symbol in the key
  l.itemStyle = { opacity: 0 }
})

chart.setOption({
  animation: false,
  backgroundColor: '#fff',
  title: panelTitles.map((t, i) => ({
    text: t,
    left: 'center',
    top: panels[i].titleY - 9,
    padding: 0,
    textStyle: { fontFamily: font, fontSize: 16, fontWeight: 'normal', color: '#000', lineHeight: 18 }
  })),
  legend: legends,
  grid: panels.map(p => ({ left: p.left, top: p.top, width: 963, height: 208 })),
  xAxis: panels.map((p, i) => ({
    type: 'value',
    gridIndex: i,
    min: 0,
    max: 74.5,
    interval: 6,
    axisLine: { lineStyle: { color: '#868686', width: 2 } },
    axisTick: { length: 5, lineStyle: { color: '#868686', width: 1 } },
    splitLine: { show: false },
    axisLabel: {
      showMaxLabel: false,
      margin: 8,
      fontFamily: font,
      fontSize: 16,
      color: '#000',
      formatter: v => (v % 6 === 0 ? xTickLabels[v / 6] : '')
    }
  })),
  yAxis: panels.map((p, i) => ({
    type: 'value',
    gridIndex: i,
    min: 0,
    max: 1.2,
    interval: 0.2,
    axisLine: { show: true, lineStyle: { color: '#868686', width: 2 } },
    axisTick: { show: true, length: 4, lineStyle: { color: '#868686' } },
    splitLine: { lineStyle: { color: '#b0b0b0', width: 1, type: [8, 4] } },
    axisLabel: {
      margin: 10,
      fontFamily: font,
      fontSize: 16,
      color: '#000',
      formatter: v => yTickLabels[Math.round(v / 0.2)]
    }
  })),
  series: series
})
</script>
</body>
</html>
